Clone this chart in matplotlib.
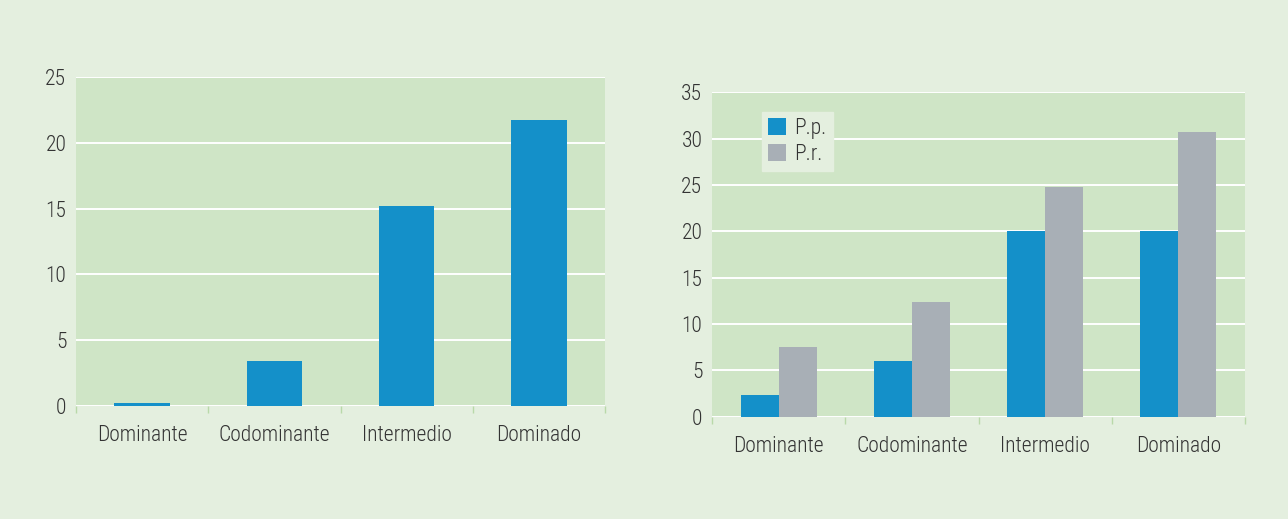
import matplotlib
matplotlib.use("Agg")
import matplotlib.pyplot as plt
import numpy as np
from matplotlib import font_manager

categories = ["Dominante", "Codominante", "Intermedio", "Dominado"]
left_values = [0.25, 3.4, 15.2, 21.7]
pp_values = [2.35, 6.0, 20.0, 20.0]
pr_values = [7.55, 12.4, 24.8, 30.7]
left_yticks = [0, 5, 10, 15, 20, 25]
right_yticks = [0, 5, 10, 15, 20, 25, 30, 35]

BG = "#e4efdf"
AXBG = "#cfe5c6"
BLUE = "#1490c9"
GREY = "#a8afb6"
TXT = "#333333"
TICKC = "#b9d9a9"

entries = font_manager.fontManager.ttflist
names = {f.name for f in entries}
fam, stretch, fsize, weight = "DejaVu Sans", "normal", 13, "normal"
if "Roboto Condensed" in names:
    fam, stretch, fsize = "Roboto Condensed", "normal", 15.5
    if any(f.name == "Roboto Condensed" and f.weight in (300, "light") for f in entries):
        weight = "light"
elif "Liberation Sans Narrow" in names:
    fam, stretch, fsize = "Liberation Sans Narrow", "normal", 15.5
elif any(f.name == "DejaVu Sans" and str(f.stretch) in ("condensed", "semi-condensed") for f in entries):
    fam, stretch, fsize = "DejaVu Sans", "condensed", 13.5

plt.rcParams["font.family"] = [fam, "DejaVu Sans"]
plt.rcParams["font.stretch"] = stretch
plt.rcParams["font.weight"] = weight

fig = plt.figure(figsize=(12.88, 5.19), dpi=100, facecolor=BG)

def style(ax, yticks, ymax, xpad):
    ax.set_facecolor(AXBG)
    for s in ax.spines.values():
        s.set_visible(False)
    ax.set_xlim(-0.5, 3.5)
    ax.set_ylim(0, ymax)
    ax.set_yticks(yticks)
    ax.set_yticklabels([str(t) for t in yticks])
    ax.set_xticks(range(len(categories)))
    ax.set_xticklabels(categories)
    ax.set_xticks(np.arange(-0.5, 4.0, 1.0), minor=True)
    ax.tick_params(axis="x", which="major", length=0, pad=xpad, labelsize=fsize, labelcolor=TXT)
    ax.tick_params(axis="x", which="minor", length=5, width=1, color=TICKC)
    ax.tick_params(axis="y", length=0, pad=7, labelsize=fsize, labelcolor=TXT)
    ax.yaxis.grid(True, color="white", linewidth=1.4)
    ax.set_axisbelow(True)

ax1 = fig.add_axes([76/1288, 1-406/519, 529/1288, 329/519])
style(ax1, left_yticks, 25, 14)
x = np.arange(len(categories))
ax1.bar(x, left_values, width=0.42, color=BLUE, zorder=3)

ax2 = fig.add_axes([712/1288, 1-416.7/519, 533/1288, 324.4/519])
style(ax2, right_yticks, 35, 14)
w = 0.285
ax2.bar(x - w/2, pp_values, width=w, color=BLUE, zorder=3, label="P.p.")
ax2.bar(x + w/2, pr_values, width=w, color=GREY, zorder=3, label="P.r.")
leg = ax2.legend(loc="upper left", bbox_to_anchor=(0.093, 0.94), frameon=True,
                 fancybox=False, framealpha=1, facecolor=BG, edgecolor=BG,
                 fontsize=fsize, handlelength=0.85, handleheight=0.85, handletextpad=0.35,
                 labelspacing=0.2, borderpad=0.3, borderaxespad=0)
for t in leg.get_texts():
    t.set_color(TXT)

fig.savefig("out.png", dpi=100, facecolor=BG)
